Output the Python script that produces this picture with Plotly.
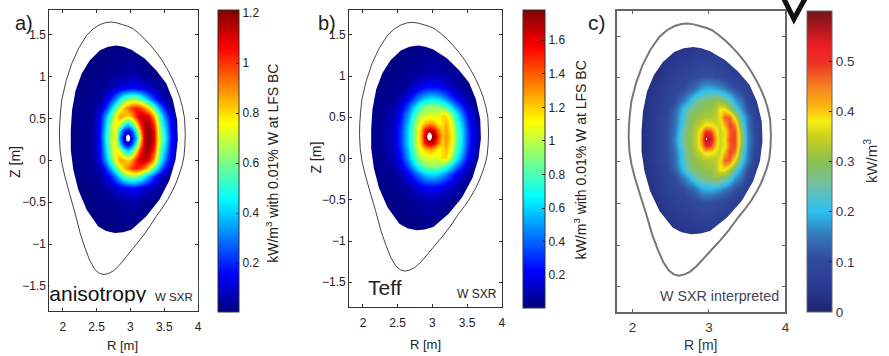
import plotly.graph_objects as go

W, H = 889, 356

R_KNOTS = [2.1, 2.3, 2.45, 2.55, 2.65, 2.72, 2.78, 2.84, 2.9, 2.96, 3.02, 3.08, 3.14, 3.2, 3.27, 3.34, 3.42, 3.5, 3.6, 3.72]
Z_KNOTS_UP = [0.27, 0.35, 0.43, 0.53, 0.63, 0.73, 0.87, 1.02, 1.37]
Z_KNOTS_DOWN = [0.19, 0.11, 0.01, -0.09, -0.19, -0.33, -0.48, -0.83]

ROWS_A = [
 [.01,.02,.04,.18,.52,.70,.72,.30,.10,.04,.16,.35,.76,1.10,1.21,1.10,.70,.52,.18,.03],
 [.01,.02,.04,.17,.50,.70,.74,.42,.18,.12,.24,.48,.85,1.12,1.20,1.08,.68,.48,.17,.03],
 [.01,.02,.04,.16,.46,.68,.78,.72,.52,.42,.55,.78,1.02,1.15,1.17,1.00,.64,.42,.15,.03],
 [.01,.02,.03,.14,.40,.60,.76,.88,.85,.80,.88,1.02,1.12,1.14,1.06,.86,.56,.34,.12,.02],
 [.01,.02,.03,.08,.24,.42,.58,.72,.84,.92,1.00,1.04,1.00,.92,.78,.58,.36,.20,.06,.02],
 [.01,.02,.02,.04,.12,.22,.32,.45,.56,.62,.66,.64,.58,.48,.35,.22,.12,.06,.02,.01],
 [.01,.01,.02,.03,.05,.07,.09,.11,.13,.15,.16,.15,.13,.11,.08,.06,.04,.03,.02,.01],
 [.01,.01,.01,.02,.02,.03,.03,.04,.04,.05,.05,.05,.04,.03,.03,.02,.02,.02,.01,.01],
 [.01,.01,.01,.01,.01,.01,.01,.01,.01,.01,.01,.01,.01,.01,.01,.01,.01,.01,.01,.01],
]
ROWS_B = [
 [.02,.05,.14,.33,.62,.85,1.05,1.28,1.65,1.78,1.75,1.45,1.22,1.30,1.15,.88,.62,.36,.14,.04],
 [.02,.05,.14,.33,.62,.85,1.04,1.24,1.55,1.68,1.58,1.35,1.20,1.28,1.13,.86,.60,.35,.14,.04],
 [.02,.05,.13,.30,.58,.80,1.00,1.12,1.22,1.28,1.22,1.12,1.15,1.25,1.08,.80,.56,.32,.12,.03],
 [.02,.04,.11,.25,.50,.72,.88,.98,1.04,1.06,1.05,1.05,1.18,1.16,.96,.70,.46,.26,.10,.03],
 [.02,.04,.08,.18,.36,.54,.68,.80,.87,.92,.92,.90,.85,.76,.62,.44,.28,.14,.06,.02],
 [.01,.03,.05,.10,.20,.32,.42,.50,.58,.62,.62,.58,.52,.44,.33,.22,.13,.07,.04,.02],
 [.01,.02,.03,.05,.08,.12,.16,.20,.23,.25,.25,.23,.20,.16,.12,.08,.05,.03,.02,.01],
 [.01,.02,.02,.03,.04,.05,.06,.07,.08,.09,.09,.08,.07,.06,.05,.04,.03,.02,.02,.01],
 [.01,.01,.01,.01,.01,.01,.01,.02,.02,.02,.02,.02,.01,.01,.01,.01,.01,.01,.01,.01],
]
ROWS_C = [
 [.02,.06,.10,.16,.26,.29,.32,.35,.44,.58,.55,.42,.35,.38,.48,.49,.30,.16,.10,.04],
 [.02,.06,.10,.15,.25,.29,.32,.35,.42,.52,.50,.40,.35,.37,.47,.49,.29,.16,.10,.04],
 [.02,.06,.10,.14,.23,.28,.31,.33,.36,.39,.38,.36,.35,.41,.49,.46,.25,.15,.09,.04],
 [.02,.06,.10,.14,.22,.27,.30,.31,.32,.33,.33,.34,.37,.47,.47,.37,.22,.15,.08,.03],
 [.02,.05,.09,.13,.20,.25,.28,.29,.30,.31,.31,.33,.38,.38,.33,.25,.17,.11,.07,.03],
 [.02,.05,.08,.10,.15,.18,.22,.26,.27,.28,.29,.31,.30,.28,.24,.18,.14,.09,.06,.03],
 [.02,.04,.07,.09,.10,.12,.13,.15,.18,.19,.19,.18,.17,.15,.13,.11,.09,.07,.05,.03],
 [.02,.03,.05,.07,.08,.09,.10,.10,.11,.11,.11,.10,.10,.09,.08,.07,.06,.05,.04,.02],
 [.02,.02,.03,.03,.04,.04,.04,.05,.05,.05,.05,.05,.04,.04,.04,.03,.03,.03,.02,.02],
]

SEP_R = [2.72,2.80,2.88,2.96,3.04,3.13,3.22,3.30,3.38,3.47,3.55,3.62,3.68,3.73,3.77,3.80,3.81,3.805,3.79,3.76,3.72,3.68,3.63,3.55,3.47,3.38,3.26,3.15,3.04,2.94,2.84,2.75,2.68,2.61,2.54,2.475,2.40,2.33,2.26,2.18,2.10,2.03,1.985,1.96,1.95,1.953,1.965,1.985,2.05,2.13,2.23,2.35,2.45,2.55,2.64,2.72]
SEP_Z = [1.65,1.64,1.62,1.60,1.57,1.51,1.44,1.37,1.29,1.19,1.08,0.97,0.86,0.75,0.63,0.50,0.32,0.18,0.04,-0.07,-0.17,-0.26,-0.35,-0.47,-0.57,-0.67,-0.82,-0.94,-1.05,-1.15,-1.25,-1.32,-1.35,-1.365,-1.35,-1.305,-1.2,-1.05,-0.88,-0.63,-0.40,-0.19,-0.03,0.12,0.28,0.42,0.56,0.72,0.95,1.15,1.33,1.49,1.57,1.62,1.645,1.65]

PLASMA_R = [2.794,2.90,3.015,3.21,3.38,3.53,3.627,3.69,3.70,3.666,3.578,3.43,3.235,3.015,2.89,2.77,2.64,2.524,2.353,2.23,2.156,2.118,2.118,2.137,2.19,2.28,2.40,2.55,2.67]
PLASMA_Z = [1.369,1.355,1.32,1.214,1.075,.917,.718,.48,.242,.004,-.235,-.47,-.67,-.83,-.86,-.87,-.845,-.79,-.592,-.354,-.115,.123,.361,.599,.837,1.036,1.194,1.313,1.355]

MASK_RECT_R = [1.9, 3.85, 3.85, 1.9]
MASK_RECT_Z = [1.62, 1.62, -1.08, -1.08]

HOLE_A_R = [2.965,2.99,2.995,2.99,2.965,2.94,2.935,2.94]
HOLE_A_Z = [0.31,0.29,0.265,0.24,0.22,0.24,0.265,0.29]
HOLE_B_R = [2.96,2.985,2.995,2.985,2.96,2.935,2.925,2.935]
HOLE_B_Z = [0.315,0.30,0.265,0.23,0.215,0.23,0.265,0.30]
HOLE_C_R = [2.97,2.98,2.97,2.96]
HOLE_C_Z = [0.285,0.27,0.255,0.27]

JET = [[0,"#00007f"],[0.125,"#0000ff"],[0.375,"#00ffff"],[0.625,"#ffff00"],[0.875,"#ff0000"],[1,"#7f0000"]]
C_SCALE = [[0,"#1e2470"],[0.08,"#2a3a90"],[0.17,"#304a9c"],[0.25,"#3575b8"],[0.335,"#2cc0f0"],[0.42,"#70c0a8"],
           [0.5,"#8cc050"],[0.58,"#c8d020"],[0.635,"#f8ee10"],[0.67,"#fcc010"],[0.75,"#f58020"],[0.83,"#ee3024"],
           [0.885,"#ed1c24"],[1,"#701418"]]

R_TICKS_AB = [2, 2.5, 3, 3.5, 4]
R_TICKS_C = [2, 3, 4]
Z_TICKS = [-1.5, -1, -0.5, 0, 0.5, 1, 1.5]
CB_TICKS_A = [0.2, 0.4, 0.6, 0.8, 1, 1.2]
CB_TICKS_B = [0.2, 0.4, 0.6, 0.8, 1, 1.2, 1.4, 1.6]
CB_TICKS_C = [0, 0.1, 0.2, 0.3, 0.4, 0.5]

FONT = "Liberation Sans"
DARK = "#222222"

def dom_x(a, b):
    return [a / W, b / W]

def dom_y(top, bottom):
    return [1 - bottom / H, 1 - top / H]

def grid(rows):
    return [rows[i] for i in range(len(rows) - 1, 0, -1)] + rows

def poly(xs, ys):
    return "M " + " L ".join(f"{x} {y}" for x, y in zip(xs, ys)) + " Z"

Z_ALL = Z_KNOTS_DOWN[::-1] + Z_KNOTS_UP

panels = [
    dict(n="", rows=ROWS_A, zmin=0.005, zmax=1.213, cs=JET, x=(49.5, 199), y=(9.5, 311), cb=(219, 240, 10, 312),
         rt=R_TICKS_AB, cbt=CB_TICKS_A, hole=(HOLE_A_R, HOLE_A_Z)),
    dict(n="2", rows=ROWS_B, zmin=0.005, zmax=1.78, cs=JET, x=(350.7, 504), y=(10, 307), cb=(525, 547, 10, 308),
         rt=R_TICKS_AB, cbt=CB_TICKS_B, hole=(HOLE_B_R, HOLE_B_Z)),
    dict(n="3", rows=ROWS_C, zmin=0, zmax=0.6, cs=C_SCALE, x=(620, 789), y=(11, 312), cb=(811, 836, 11, 312),
         rt=R_TICKS_C, cbt=CB_TICKS_C, hole=(HOLE_C_R, HOLE_C_Z)),
]

fig = go.Figure()
layout = dict(width=W, height=H, margin=dict(l=0, r=0, t=0, b=0), paper_bgcolor="white", plot_bgcolor="white",
              showlegend=False, font=dict(family=FONT, size=12, color=DARK))
shapes = []

for idx, p in enumerate(panels):
    n = p["n"]
    xa, ya = "x" + n, "y" + n
    c = idx == 2
    line_col = "#666666" if c else "#333333"
    fig.add_trace(go.Heatmap(
        x=R_KNOTS, y=Z_ALL, z=grid(p["rows"]), zmin=p["zmin"], zmax=p["zmax"], colorscale=p["cs"], zsmooth="best",
        xaxis=xa, yaxis=ya, hoverinfo="skip",
        colorbar=dict(x=p["cb"][0] / W, xanchor="left", xpad=0, ypad=0, thickness=p["cb"][1] - p["cb"][0],
                      y=1 - p["cb"][3] / H, yanchor="bottom", len=(p["cb"][3] - p["cb"][2]) / H, lenmode="fraction",
                      tickvals=p["cbt"], ticks="inside", ticklen=3, tickcolor="#222222", outlinecolor=line_col, outlinewidth=1,
                      tickfont=dict(size=13.5 if c else 12, color="#333355" if c else DARK))))
    shapes.append(dict(type="path", xref=xa, yref=ya, layer="above", fillrule="evenodd", fillcolor="white", line=dict(width=0),
                       path=poly(MASK_RECT_R, MASK_RECT_Z) + " " + poly(PLASMA_R, PLASMA_Z)))
    shapes.append(dict(type="path", xref=xa, yref=ya, layer="above", fillcolor="white", line=dict(width=0),
                       path=poly(*p["hole"])))
    shapes.append(dict(type="path", xref=xa, yref=ya, layer="above", line=dict(color="#777777" if c else "#444444", width=2 if c else 1),
                       path=poly(SEP_R, SEP_Z)))
    axis = dict(showgrid=False, zeroline=False, showline=True, mirror="ticks", ticks="inside", ticklen=3,
                linecolor=line_col, linewidth=2 if c else 1, tickcolor=line_col)
    layout["xaxis" + n] = dict(axis, domain=dom_x(*p["x"]), range=[1.8, 4], tickvals=p["rt"], anchor=ya,
                               ticklabelstandoff=2 if c else 5,
                               tickfont=dict(size=13.5 if c else 12, color="#443322" if c else DARK))
    layout["yaxis" + n] = dict(axis, domain=dom_y(*p["y"]), range=[-1.8, 1.8], tickvals=Z_TICKS, anchor=xa,
                               showticklabels=not c, tickfont=dict(size=12, color=DARK))

# clipped caption of panel a: its own small axes end where the lettering is cut
fig.add_trace(go.Scatter(x=[0], y=[0.29], mode="text", text=["anisotropy"], textposition="middle right",
                         textfont=dict(size=21, family=FONT, color="#111111"), xaxis="x4", yaxis="y4",
                         cliponaxis=True, hoverinfo="skip"))
layout["xaxis4"] = dict(domain=dom_x(49.5, 199), range=[0, 1], visible=False, anchor="y4")
layout["yaxis4"] = dict(domain=dom_y(280, 302.5), range=[0, 1], visible=False, anchor="x4")

def note(text, x, y, size, color=DARK, angle=0, anchor="left"):
    return dict(text=text, x=x / W, y=1 - y / H, xref="paper", yref="paper", showarrow=False, textangle=angle,
                font=dict(size=size, family=FONT, color=color), xanchor=anchor, yanchor="middle")

CB_TEXT = "kW/m<sup>3</sup> with 0.01% W at LFS BC"
layout["annotations"] = [
    note("a)", 13, 23, 20, "#222222"),
    note("b)", 317, 23, 20, "#222222"),
    note("c)", 589, 23, 21, "#222222"),
    note("W SXR", 154, 297, 11.5),
    note("Teff", 368, 287, 21),
    note("W SXR", 457, 294, 12),
    note("W SXR interpreted", 661, 296, 14.3, "#444455"),
    note("Z [m]", 15, 162, 14, angle=-90, anchor="center"),
    note("Z [m]", 317, 158, 14, angle=-90, anchor="center"),
    note("R [m]", 123, 345, 13, anchor="center"),
    note("R [m]", 427, 344, 13, anchor="center"),
    note("R [m]", 704, 345, 14, "#333344", anchor="center"),
    note(CB_TEXT, 273, 163, 14, angle=-90, anchor="center"),
    note(CB_TEXT, 583, 160, 14, angle=-90, anchor="center"),
    note("kW/m<sup>3</sup>", 874, 161, 15, "#333344", angle=-90, anchor="center"),
]
cx = lambda v: v / W
cy = lambda v: 1 - v / H
shapes.append(dict(type="path", xref="paper", yref="paper",
                   path=f"M {cx(787)} {cy(-2)} L {cx(797.5)} {cy(19)} L {cx(809)} {cy(-2)}",
                   line=dict(color="#111111", width=5)))
layout["shapes"] = shapes
fig.update_layout(**layout)
fig.write_html("out.html", default_width=f"{W}px", default_height=f"{H}px",
               post_script="document.body.style.margin='0';document.body.style.overflow='hidden';",
               config=dict(displayModeBar=False, responsive=False))
